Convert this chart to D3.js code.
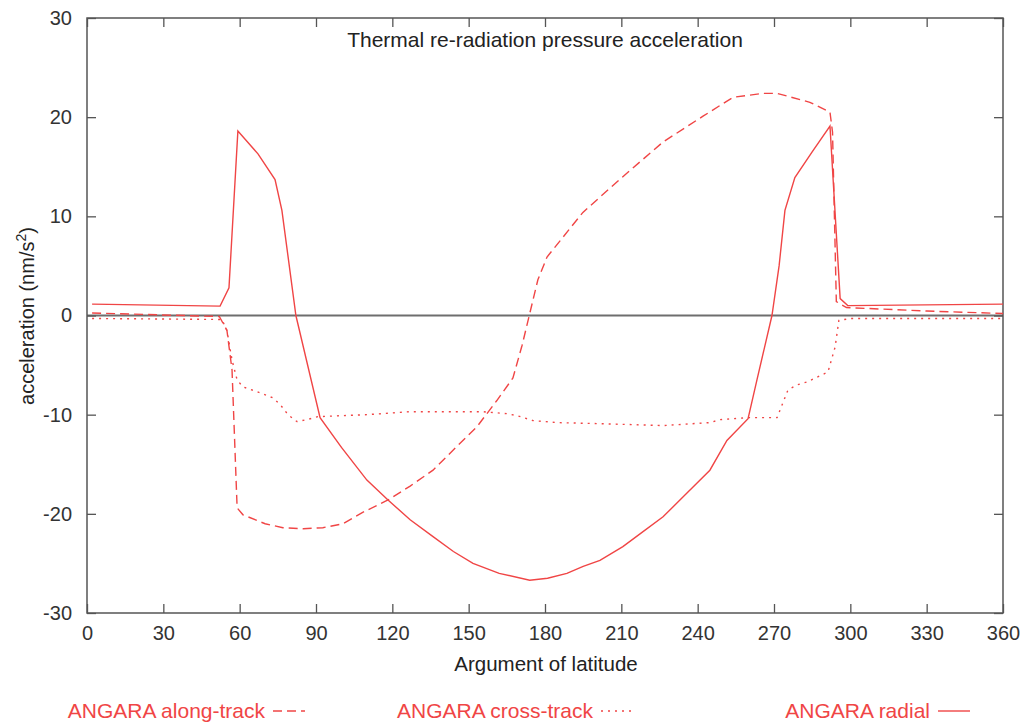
<!DOCTYPE html>
<html>
<head>
<meta charset="utf-8">
<script src="https://cdnjs.cloudflare.com/ajax/libs/d3/7.8.5/d3.min.js"></script>
<style>
  body { margin: 0; background: #fff; }
  text { font-family: "Liberation Sans", Arial, sans-serif; }
</style>
</head>
<body>
<div id="chart"></div>
<script>
var width = 1024,
    height = 722;

// argument of latitude (deg) / acceleration (nm/s^2)
var alongTrack = [
  [2, 0.25], [52, -0.1], [55, -1.5], [57, -5.5], [59, -19.4], [61.3, -20.1],
  [70, -21], [77, -21.4], [85, -21.5], [92.7, -21.4], [100.6, -21], [108, -19.9],
  [118.3, -18.6], [127, -17.2], [136, -15.6], [145, -13.3], [153.3, -11.2],
  [161, -8.6], [167.4, -6.3], [171, -3], [174, 0.2], [177.2, 3.6], [180.8, 5.9],
  [194.9, 10.4], [210.6, 14], [226.4, 17.5], [242.1, 20.1], [253.9, 22],
  [265.7, 22.4], [271.2, 22.4], [284.1, 21.5], [292, 20.5], [293, 18.5],
  [294.5, 1.4], [298.5, 0.8], [330, 0.45], [360, 0.2]
];
var crossTrack = [
  [2, -0.3], [53, -0.4], [55, -1.5], [57, -4.5], [59, -6.5], [61.3, -7.2],
  [67, -7.7], [73, -8.3], [76, -9], [79, -10], [82.5, -10.7], [86.5, -10.5],
  [90.8, -10.2], [110, -10], [127, -9.7], [142.7, -9.7], [155.6, -9.7],
  [165, -9.9], [169, -10.1], [175.3, -10.6], [185, -10.8], [200.4, -10.9],
  [226.4, -11.1], [244.8, -10.8], [248.8, -10.5], [259.4, -10.3], [271.2, -10.3],
  [273.5, -8.8], [275.5, -7.5], [279, -7], [283, -6.7], [291.2, -5.7],
  [294, -3.2], [295.5, -0.5], [300, -0.3], [360, -0.3]
];
var radial = [
  [2, 1.15], [52.3, 0.95], [55.8, 2.8], [59.3, 18.6], [67.2, 16.3], [73.9, 13.7],
  [76.6, 10.6], [82.1, 0], [91.6, -10.3], [100, -13.3], [110, -16.6],
  [118.3, -18.6], [127, -20.6], [136, -22.3], [144, -23.8], [151.7, -25],
  [162, -26], [174, -26.7], [181, -26.5], [188.6, -26], [195, -25.3],
  [201.6, -24.7], [210.6, -23.3], [218, -21.9], [226.4, -20.3], [235.8, -17.9],
  [244.8, -15.6], [251.5, -12.6], [259.8, -10.4], [263.3, -6.5], [269.2, 0],
  [272, 5], [274.3, 10.6], [278.2, 13.9], [285, 16.5], [292, 19.1], [296, 1.7],
  [299, 1.0], [360, 1.15]
];

var seriesNames = ["ANGARA along-track", "ANGARA cross-track", "ANGARA radial"];
var xTicks = d3.range(0, 361, 30),
    yTicks = d3.range(-30, 31, 10);

var red = "#f04545",
    axisGrey = "#555";

var series = [
  {name: seriesNames[0], values: alongTrack, dash: "9,5"},
  {name: seriesNames[1], values: crossTrack, dash: "2,5"},
  {name: seriesNames[2], values: radial, dash: null}
];

var plotLeft = 87, plotRight = 1003, plotTop = 18, plotBottom = 613;

var x = d3.scaleLinear().domain([0, 360]).range([plotLeft, plotRight]);
var y = d3.scaleLinear().domain([-30, 30]).range([plotBottom, plotTop]);

var svg = d3.select("#chart").append("svg")
    .attr("width", width)
    .attr("height", height);

// zero line
svg.append("line")
    .attr("x1", plotLeft).attr("x2", plotRight)
    .attr("y1", y(0)).attr("y2", y(0))
    .attr("stroke", "#6e6e6e")
    .attr("stroke-width", 2);

// axes, ticks pointing inwards on all four sides
function styleAxis(g) {
  g.select(".domain").remove();
  g.selectAll(".tick line").attr("stroke", axisGrey).attr("stroke-width", 1.3);
  g.selectAll(".tick text")
      .attr("fill", "#333")
      .style("font-size", "20px")
      .style("font-family", "'Liberation Sans', Arial, sans-serif");
}

// plain hyphen for negatives, like the original
var plain = function(d) { return String(d); };

svg.append("g")
    .attr("transform", "translate(0," + plotBottom + ")")
    .call(d3.axisBottom(x).tickValues(xTicks).tickFormat(plain).tickSizeInner(-9).tickPadding(13))
    .call(styleAxis);

svg.append("g")
    .attr("transform", "translate(0," + plotTop + ")")
    .call(d3.axisTop(x).tickValues(xTicks).tickSizeInner(-9).tickFormat(""))
    .call(styleAxis);

svg.append("g")
    .attr("transform", "translate(" + plotLeft + ",0)")
    .call(d3.axisLeft(y).tickValues(yTicks).tickFormat(plain).tickSizeInner(-9).tickPadding(15))
    .call(styleAxis);

svg.append("g")
    .attr("transform", "translate(" + plotRight + ",0)")
    .call(d3.axisRight(y).tickValues(yTicks).tickSizeInner(-9).tickFormat(""))
    .call(styleAxis);

svg.append("rect")
    .attr("x", plotLeft).attr("y", plotTop)
    .attr("width", plotRight - plotLeft).attr("height", plotBottom - plotTop)
    .attr("fill", "none")
    .attr("stroke", axisGrey)
    .attr("stroke-width", 1.5);

// series
var line = d3.line()
    .x(function(d) { return x(d[0]); })
    .y(function(d) { return y(d[1]); });

svg.selectAll("path.series")
    .data(series)
  .enter().append("path")
    .attr("class", "series")
    .attr("d", function(d) { return line(d.values); })
    .attr("fill", "none")
    .attr("stroke", red)
    .attr("stroke-width", 1.4)
    .attr("stroke-dasharray", function(d) { return d.dash; });

// titles
svg.append("text")
    .attr("x", 545).attr("y", 47)
    .attr("text-anchor", "middle")
    .attr("fill", "#222")
    .style("font-size", "21px")
    .text("Thermal re-radiation pressure acceleration");

svg.append("text")
    .attr("x", 546).attr("y", 671)
    .attr("text-anchor", "middle")
    .attr("fill", "#222")
    .style("font-size", "20.5px")
    .text("Argument of latitude");

var ylab = svg.append("text")
    .attr("transform", "translate(34,316)rotate(-90)")
    .attr("text-anchor", "middle")
    .attr("fill", "#222")
    .style("font-size", "20px");
ylab.append("tspan").text("acceleration (nm/s");
ylab.append("tspan").attr("dy", -8).style("font-size", "14px").text("2");
ylab.append("tspan").attr("dy", 8).text(")");

// legend along the bottom
var legendEnds = [265, 593, 930];
var legend = svg.selectAll("g.legend")
    .data(series)
  .enter().append("g")
    .attr("class", "legend")
    .attr("transform", function(d, i) { return "translate(" + legendEnds[i] + ",711)"; });

legend.append("text")
    .attr("text-anchor", "end")
    .attr("dy", "0.35em")
    .attr("fill", red)
    .style("font-size", "21px")
    .text(function(d) { return d.name; });

legend.append("line")
    .attr("x1", 8).attr("x2", 40)
    .attr("stroke", red)
    .attr("stroke-width", 1.4)
    .attr("stroke-dasharray", function(d) { return d.dash; });
</script>
</body>
</html>
